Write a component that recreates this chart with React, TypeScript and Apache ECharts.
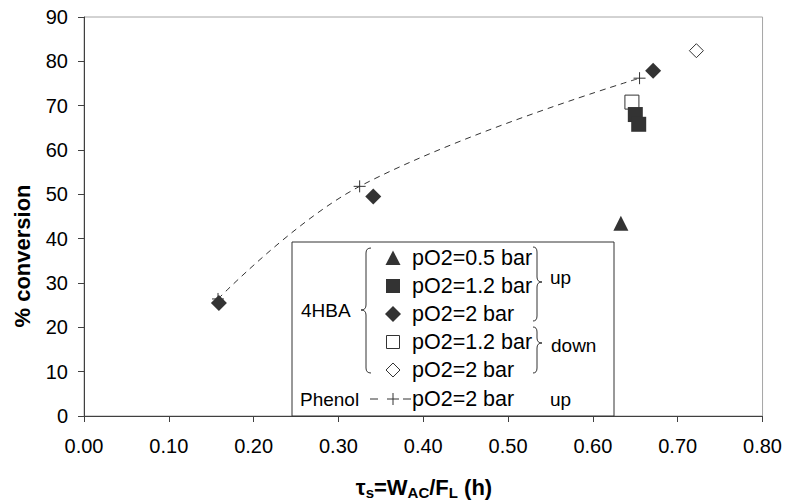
import React, { useEffect, useRef } from "react";
import * as echarts from "echarts";

// ---- data ----
const tri05Up: number[][] = [[0.633, 43.5]];
const sq12Up: number[][] = [[0.650, 68.0], [0.654, 65.8]];
const dia2Up: number[][] = [[0.159, 25.5], [0.341, 49.5], [0.671, 77.9]];
const sq12Down: number[][] = [[0.646, 70.8]];
const dia2Down: number[][] = [[0.722, 82.4]];
const phenol2Up: number[][] = [[0.158, 26.4], [0.325, 51.8], [0.655, 76.2]];

const xTicks = { min: 0, max: 0.8, interval: 0.1 };
const yTicks = { min: 0, max: 90, interval: 10 };

const legendRows = ["pO2=0.5 bar", "pO2=1.2 bar", "pO2=2 bar", "pO2=1.2 bar", "pO2=2 bar"];

const DARK = "#333333";
const FONT = "Liberation Sans, Arial, sans-serif";

echarts.graphic.registerShape(
  "braces",
  echarts.graphic.extendPath(
    "M371,248 Q366,248 366,253 L366,305 Q366,310 361,310 Q366,310 366,315 L366,368 Q366,373 371,373 " +
      "M533,247 Q537,247 537,252 L537,277 Q537,282 542,282 Q537,282 537,287 L537,316 Q537,321 533,321 " +
      "M533,327 Q537,327 537,332 L537,338 Q537,343 542,343 Q537,343 537,348 L537,368 Q537,373 533,373",
    {}
  )
);

const PLUS = "path://M0,6 L12,6 M6,0 L6,12";

export default function App() {
  const ref = useRef<HTMLDivElement>(null);
  useEffect(() => {
    document.body.style.margin = "0";
    if (!ref.current) return;
    const chart = echarts.init(ref.current, null, { renderer: "svg" });
    const rowY = [258, 286, 314, 342, 370];
    const sx = 393;
    const txt = (t: string, x: number, y: number, size = 19) => ({
      type: "text",
      x,
      y,
      z: 11,
      style: { text: t, fontSize: size, fontFamily: FONT, fill: "#000", verticalAlign: "middle" },
    });
    const legendText = legendRows.map((t, i) => txt(t, 412, rowY[i], 21.5));
    chart.setOption({
      animation: false,
      grid: {
        left: 84,
        right: 21,
        top: 17,
        bottom: 88,
        show: true,
        borderColor: "#a6a6a6",
        borderWidth: 1,
      },
      xAxis: {
        type: "value",
        ...xTicks,
        splitLine: { show: false },
        axisLine: { onZero: false, lineStyle: { color: "#404040", width: 1 } },
        axisTick: { show: true, inside: false, length: 6, lineStyle: { color: "#404040" } },
        axisLabel: {
          fontSize: 20,
          fontFamily: FONT,
          color: "#000",
          margin: 20,
          formatter: (v: number) => v.toFixed(2),
        },
      },
      yAxis: {
        type: "value",
        ...yTicks,
        splitLine: { show: false },
        axisLine: { onZero: false, lineStyle: { color: "#404040", width: 1 } },
        axisTick: { show: true, inside: false, length: 6, lineStyle: { color: "#404040" } },
        axisLabel: { fontSize: 20, fontFamily: FONT, color: "#000", margin: 16 },
      },
      series: [
        {
          type: "line",
          data: phenol2Up,
          smooth: 0.4,
          symbol: PLUS,
          symbolSize: 12,
          showSymbol: true,
          lineStyle: { color: DARK, width: 1, type: [6, 5] },
          itemStyle: { color: "rgba(0,0,0,0)", borderColor: DARK, borderWidth: 1 },
          z: 2,
        },
        {
          type: "scatter",
          data: dia2Down,
          symbol: "diamond",
          symbolSize: 14,
          itemStyle: { color: "#fff", borderColor: DARK, borderWidth: 1, opacity: 1 },
          z: 3,
        },
        {
          type: "scatter",
          data: sq12Down,
          symbol: "rect",
          symbolSize: 14,
          itemStyle: { color: "#fff", borderColor: DARK, borderWidth: 1, opacity: 1 },
          z: 3,
        },
        {
          type: "scatter",
          data: sq12Up,
          symbol: "rect",
          symbolSize: 15,
          itemStyle: { color: DARK, opacity: 1 },
          z: 4,
        },
        {
          type: "scatter",
          data: dia2Up,
          symbol: "diamond",
          symbolSize: 16,
          itemStyle: { color: DARK, opacity: 1 },
          z: 4,
        },
        {
          type: "scatter",
          data: tri05Up,
          symbol: "triangle",
          symbolSize: 15,
          itemStyle: { color: DARK, opacity: 1 },
          z: 4,
        },
      ],
      graphic: [
        {
          type: "text",
          x: 22,
          y: 256,
          rotation: Math.PI / 2,
          style: {
            text: "% conversion",
            fontSize: 22,
            fontWeight: "bold",
            fontFamily: FONT,
            fill: "#000",
            align: "center",
            verticalAlign: "middle",
          },
        },
        {
          type: "text",
          x: 424,
          y: 487,
          style: {
            text: "{m|τ}{s|s}{m|=W}{s|AC}{m|/F}{s|L}{m| (h)}",
            align: "center",
            verticalAlign: "middle",
            fill: "#000",
            rich: {
              m: { fontSize: 22, fontWeight: "bold", fontFamily: FONT, lineHeight: 26, verticalAlign: "middle" },
              s: { fontSize: 15, fontWeight: "bold", fontFamily: FONT, lineHeight: 15, verticalAlign: "bottom" },
            },
          },
        },
        {
          type: "rect",
          z: 10,
          shape: { x: 292, y: 242, width: 322, height: 174 },
          style: { fill: "#fff", stroke: DARK, lineWidth: 1 },
        },
        {
          type: "braces",
          z: 11,
          x: 0,
          y: 0,
          shape: {},
          style: { fill: "none", stroke: DARK, lineWidth: 1 },
        },
        txt("4HBA", 301, 310),
        txt("Phenol", 300, 399),
        txt("up", 550, 277),
        txt("down", 551, 345),
        txt("up", 550, 399),
        ...legendText,
        txt("pO2=2 bar", 412, 399, 21.5),
        {
          type: "polygon",
          z: 11,
          shape: { points: [[sx, rowY[0] - 7.5], [sx - 7.5, rowY[0] + 7], [sx + 7.5, rowY[0] + 7]] },
          style: { fill: DARK },
        },
        {
          type: "rect",
          z: 11,
          shape: { x: sx - 7, y: rowY[1] - 7, width: 14, height: 14 },
          style: { fill: DARK },
        },
        {
          type: "polygon",
          z: 11,
          shape: { points: [[sx, rowY[2] - 8], [sx + 8, rowY[2]], [sx, rowY[2] + 8], [sx - 8, rowY[2]]] },
          style: { fill: DARK },
        },
        {
          type: "rect",
          z: 11,
          shape: { x: sx - 6.5, y: rowY[3] - 6.5, width: 13, height: 13 },
          style: { fill: "#fff", stroke: DARK, lineWidth: 1 },
        },
        {
          type: "polygon",
          z: 11,
          shape: { points: [[sx, rowY[4] - 7], [sx + 7, rowY[4]], [sx, rowY[4] + 7], [sx - 7, rowY[4]]] },
          style: { fill: "#fff", stroke: DARK, lineWidth: 1 },
        },
        {
          type: "line",
          z: 11,
          shape: { x1: 370, y1: 399, x2: 378, y2: 399 },
          style: { stroke: DARK, lineWidth: 1 },
        },
        {
          type: "line",
          z: 11,
          shape: { x1: 403, y1: 399, x2: 411, y2: 399 },
          style: { stroke: DARK, lineWidth: 1 },
        },
        {
          type: "line",
          z: 11,
          shape: { x1: 387, y1: 399, x2: 399, y2: 399 },
          style: { stroke: DARK, lineWidth: 1 },
        },
        {
          type: "line",
          z: 11,
          shape: { x1: 393, y1: 393, x2: 393, y2: 405 },
          style: { stroke: DARK, lineWidth: 1 },
        },
      ],
    });
    return () => chart.dispose();
  }, []);
  return <div ref={ref} style={{ width: 785, height: 504 }} />;
}
